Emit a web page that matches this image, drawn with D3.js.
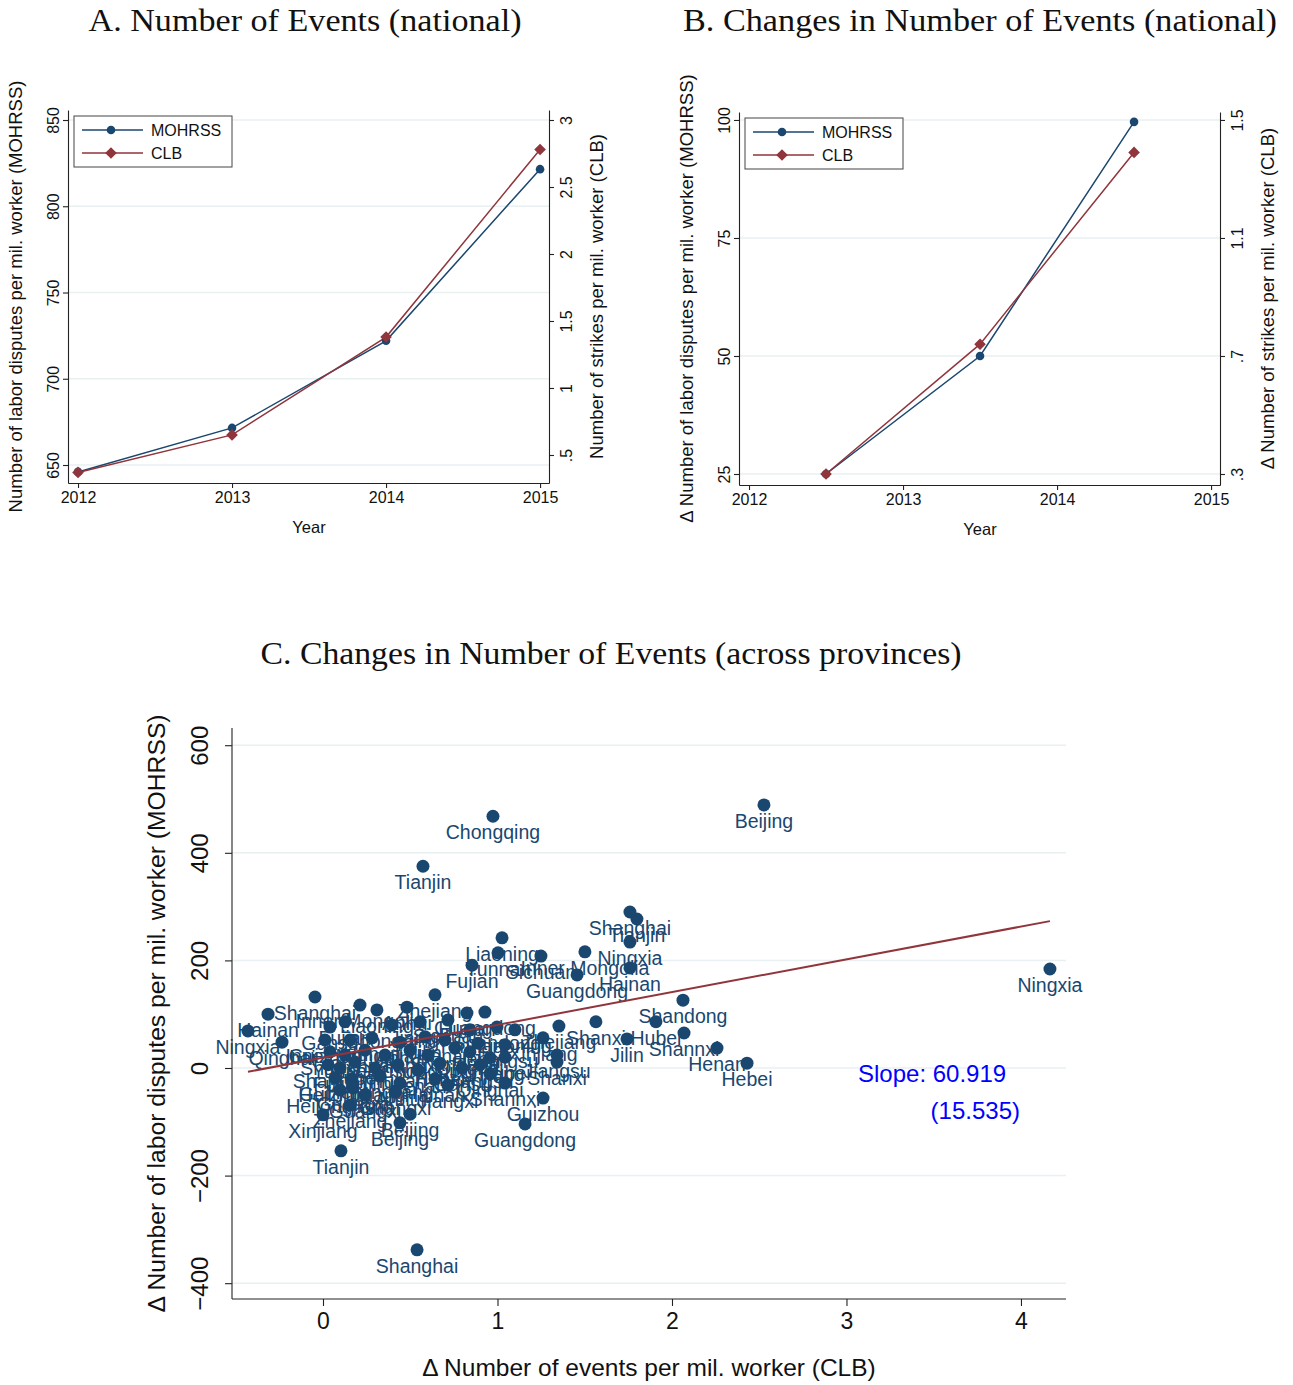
<!DOCTYPE html>
<html>
<head>
<meta charset="utf-8">
<script src="https://cdn.jsdelivr.net/npm/d3@7"></script>
<style>
body { margin: 0; background: #fff; }
</style>
</head>
<body>
<div id="chart"></div>
<script>
// ---- panel A: levels (national)
var years = [2012, 2013, 2014, 2015];
var mohrssLevel = [646, 671.5, 722, 821.5];
var clbLevel = [0.37, 0.65, 1.38, 2.78];

// ---- panel B: changes (national)
var changeYears = [2012.5, 2013.5, 2014.5];
var mohrssChange = [25, 50, 99.6];
var clbChange = [0.3, 0.74, 1.39];

// ---- panel C: changes across provinces
var provNames = ["Chongqing","Beijing","Tianjin","Shanghai","Tianjin","Liaoning","Yunnan","Sichuan","Fujian","Inner Mongolia",
	"Guangdong","Ningxia","Hainan","Shandong","Ningxia","Shanghai","Hainan","Ningxia","Qinghai","Inner Mongolia",
	"Liaoning","Anhui","Zhejiang","Hunan","Guangdong","Hubei","Shanxi","Zhejiang","Shannxi","Jilin",
	"Henan","Hebei","Xinjiang","Jiangsu","Shanxi","Guizhou","Guangdong","Beijing","Beijing","Xinjiang",
	"Tianjin","Shanghai","Zhejiang","Hainan","Qinghai","Shandong","Hubei","Heilongjiang","Guangxi",
	"Gansu","Fujian","Chongqing","Jiangxi","Sichuan","Yunnan","Shandong","Liaoning",
	"Guizhou","Inner Mongolia","Hunan","Anhui","Jilin","Henan","Hebei","Jiangsu",
	"Shanxi","Yunnan","Sichuan","Gansu","Jiangxi","Chongqing","Qinghai","Xinjiang",
	"Shannxi","Fujian","Hubei","Jilin","Hunan","Henan","Hebei","Gansu","Jiangsu",
	"Guizhou","Heilongjiang","Anhui","Jiangxi","Shannxi","Guangxi","Heilongjiang","Guangxi"];
var provDX = [0.974,2.527,0.573,1.759,1.799,1.026,1.003,1.249,0.854,1.501,
	1.456,1.759,1.759,2.063,4.166,-0.046,-0.315,-0.430,-0.235,0.212,
	0.309,0.481,0.642,0.825,0.928,1.908,1.564,1.352,2.069,1.742,
	2.258,2.430,1.261,1.341,1.341,1.261,1.158,0.499,0.441,0.000,
	0.103,0.539,0.155,0.642,0.957,0.756,1.043,0.166,0.172,
	0.040,0.126,0.395,0.556,0.716,0.842,0.997,1.100,
	0.011,0.155,0.281,0.441,0.585,0.699,0.888,1.043,
	0.040,0.126,0.241,0.355,0.499,0.602,0.842,0.957,
	0.029,0.097,0.183,0.298,0.430,0.544,0.670,0.797,0.900,
	0.069,0.327,0.441,0.716,1.043,0.413,0.097,0.241];
var provDY = [468,489,375,290,277,242,214,208,191,216,
	173,234,186,126,184,132,100,69,48,117,
	108,113,136,102,104,86,86,78,65,54,
	37,9,56,24,11,-56,-104,-86,-102,-87,
	-154,-338,-69,-20,-11,37,20,-20,-37,
	76,86,80,86,89,71,76,71,
	52,52,56,48,58,52,46,43,
	30,24,33,24,33,24,30,19,
	6,0,11,0,6,-4,9,0,6,
	-19,-15,-28,-32,-28,-45,-41,-50];
var fitSlope = 60.919, fitSE = 15.535, fitIntercept = 19.2;

var W = 1293, H = 1385;
var navy = "#1a476f", maroon = "#90353b", gridCol = "#e8f0f2", axisCol = "#222";
var sans = "'Liberation Sans', Arial, sans-serif";
var serif = "'Liberation Serif', 'Times New Roman', serif";

var svg = d3.select("#chart").append("svg")
	.attr("width", W)
	.attr("height", H)
	.style("background", "#fff");

// stata drops the leading zero on decimals
function stataNum(d) {
	var s = String(d);
	return s.indexOf("0.") == 0 ? s.substring(1) : s;
}

function diamond(r) {
	return "M0," + (-r) + "L" + r + ",0L0," + r + "L" + (-r) + ",0Z";
}

function panelTitle(txt, cx, y, len) {
	svg.append("text")
		.attr("x", cx).attr("y", y)
		.attr("text-anchor", "middle")
		.attr("textLength", len)
		.attr("lengthAdjust", "spacingAndGlyphs")
		.style("font-family", serif)
		.style("font-size", "32px")
		.style("fill", "#111")
		.text(txt);
}

// vertical tick labels like stata's default y labels
function rotateLabels(axisG, offset) {
	axisG.selectAll(".tick text")
		.attr("x", null).attr("dy", null)
		.attr("text-anchor", "middle")
		.attr("transform", "translate(" + offset + ",0) rotate(-90)");
}

function styleAxis(axisG, fontSize) {
	axisG.select(".domain").style("stroke", axisCol).style("stroke-width", 1.1);
	axisG.selectAll(".tick line").style("stroke", axisCol).style("stroke-width", 1.1);
	axisG.selectAll(".tick text")
		.style("font-family", sans)
		.style("font-size", fontSize + "px")
		.style("fill", "#111");
}

// draws a two-axis line panel (A and B)
function twinPanel(o) {
	var g = svg.append("g");
	var x = d3.scaleLinear().domain(o.xDom).range([o.left, o.right]);
	var yL = d3.scaleLinear().domain(o.yLDom).range([o.bottom, o.top]);
	var yR = d3.scaleLinear().domain(o.yRDom).range([o.bottom, o.top]);

	g.selectAll(".grid")
		.data(o.yLTicks)
		.enter().append("line")
		.attr("x1", o.left).attr("x2", o.right)
		.attr("y1", function(d) { return yL(d); })
		.attr("y2", function(d) { return yL(d); })
		.style("stroke", gridCol)
		.style("stroke-width", 1.5);

	var xa = g.append("g")
		.attr("transform", "translate(0," + o.bottom + ")")
		.call(d3.axisBottom(x).tickValues(years).tickFormat(d3.format("d")).tickSize(5).tickSizeOuter(0));
	styleAxis(xa, 16);
	xa.selectAll(".tick text").attr("y", 9).attr("dy", "0.71em");

	var la = g.append("g")
		.attr("transform", "translate(" + o.left + ",0)")
		.call(d3.axisLeft(yL).tickValues(o.yLTicks).tickSize(5).tickSizeOuter(0).tickFormat(stataNum));
	styleAxis(la, 16);
	rotateLabels(la, -9);

	var ra = g.append("g")
		.attr("transform", "translate(" + o.right + ",0)")
		.call(d3.axisRight(yR).tickValues(o.yRTicks).tickSize(5).tickSizeOuter(0).tickFormat(stataNum));
	styleAxis(ra, 16);
	ra.selectAll(".tick text")
		.attr("x", null).attr("dy", null)
		.attr("text-anchor", "middle")
		.attr("transform", "translate(23,0) rotate(-90)");

	// axis titles
	g.append("text")
		.attr("transform", "translate(" + o.lTitleX + "," + (o.top + o.bottom) / 2 + ") rotate(-90)")
		.attr("text-anchor", "middle")
		.style("font-family", sans).style("font-size", "18.5px").style("fill", "#111")
		.text(o.lTitle);
	g.append("text")
		.attr("transform", "translate(" + o.rTitleX + "," + (o.top + o.bottom) / 2 + ") rotate(-90)")
		.attr("text-anchor", "middle")
		.style("font-family", sans).style("font-size", "18.5px").style("fill", "#111")
		.text(o.rTitle);
	g.append("text")
		.attr("x", o.xTitleX).attr("y", o.bottom + 50)
		.attr("text-anchor", "middle")
		.style("font-family", sans).style("font-size", "16.5px").style("fill", "#111")
		.text("Year");

	// lines
	var lineL = d3.line().x(function(d, i) { return x(o.xs[i]); }).y(function(d) { return yL(d); });
	var lineR = d3.line().x(function(d, i) { return x(o.xs[i]); }).y(function(d) { return yR(d); });

	g.append("path").attr("d", lineL(o.left_vals))
		.style("fill", "none").style("stroke", navy).style("stroke-width", 1.5);
	g.append("path").attr("d", lineR(o.right_vals))
		.style("fill", "none").style("stroke", maroon).style("stroke-width", 1.5);

	g.selectAll(".mL").data(o.left_vals).enter().append("circle")
		.attr("cx", function(d, i) { return x(o.xs[i]); })
		.attr("cy", function(d) { return yL(d); })
		.attr("r", 4.3)
		.style("fill", navy);
	g.selectAll(".mR").data(o.right_vals).enter().append("path")
		.attr("d", diamond(5.8))
		.attr("transform", function(d, i) { return "translate(" + x(o.xs[i]) + "," + yR(d) + ")"; })
		.style("fill", maroon);

	// legend
	var lg = g.append("g").attr("transform", "translate(" + (o.left + 6) + "," + (o.top + 6) + ")");
	lg.append("rect").attr("width", 158).attr("height", 51)
		.style("fill", "#fff").style("stroke", "#444").style("stroke-width", 1);
	var items = [{name: "MOHRSS", col: navy, dia: false}, {name: "CLB", col: maroon, dia: true}];
	items.forEach(function(it, i) {
		var yy = 14 + i * 23;
		lg.append("line").attr("x1", 8).attr("x2", 69).attr("y1", yy).attr("y2", yy)
			.style("stroke", it.col).style("stroke-width", 1.5);
		if (it.dia) {
			lg.append("path").attr("d", diamond(5.8)).attr("transform", "translate(37," + yy + ")").style("fill", it.col);
		} else {
			lg.append("circle").attr("cx", 37).attr("cy", yy).attr("r", 4.3).style("fill", it.col);
		}
		lg.append("text").attr("x", 77).attr("y", yy + 6)
			.style("font-family", sans).style("font-size", "16px").style("fill", "#111")
			.text(it.name);
	});
}

panelTitle("A. Number of Events (national)", 305, 31, 433);
panelTitle("B. Changes in Number of Events (national)", 980, 31, 594);
panelTitle("C. Changes in Number of Events (across provinces)", 611, 664, 701);

twinPanel({
	left: 68, right: 549, top: 110, bottom: 483,
	xDom: [2011.935, 2015.058],
	yLDom: [639.57, 855.8], yRDom: [0.291, 3.0746],
	yLTicks: [650, 700, 750, 800, 850], yRTicks: [0.5, 1, 1.5, 2, 2.5, 3],
	xs: years, left_vals: mohrssLevel, right_vals: clbLevel,
	lTitle: "Number of labor disputes per mil. worker (MOHRSS)", lTitleX: 22,
	rTitle: "Number of strikes per mil. worker (CLB)", rTitleX: 603,
	xTitleX: 309
});

twinPanel({
	left: 739, right: 1220, top: 112, bottom: 485,
	xDom: [2011.935, 2015.058],
	yLDom: [22.67, 101.69], yRDom: [0.2627, 1.527],
	yLTicks: [25, 50, 75, 100], yRTicks: [0.3, 0.7, 1.1, 1.5],
	xs: changeYears, left_vals: mohrssChange, right_vals: clbChange,
	lTitle: "\u0394 Number of labor disputes per mil. worker (MOHRSS)", lTitleX: 693,
	rTitle: "\u0394 Number of strikes per mil. worker (CLB)", rTitleX: 1274,
	xTitleX: 980
});

// ---- panel C scatter
var cL = 232, cR = 1066, cT = 728, cB = 1299;
var cx = d3.scaleLinear().domain([-0.5215, 4.258]).range([cL, cR]);
var cy = d3.scaleLinear().domain([-429.4, 632.0]).range([cB, cT]);
var cg = svg.append("g");
var cYTicks = [-400, -200, 0, 200, 400, 600];

cg.selectAll(".cgrid").data(cYTicks).enter().append("line")
	.attr("x1", cL).attr("x2", cR)
	.attr("y1", function(d) { return cy(d); })
	.attr("y2", function(d) { return cy(d); })
	.style("stroke", gridCol).style("stroke-width", 1.5);

var cxa = cg.append("g").attr("transform", "translate(0," + cB + ")")
	.call(d3.axisBottom(cx).tickValues([0, 1, 2, 3, 4]).tickFormat(d3.format("d")).tickSize(7).tickSizeOuter(0));
styleAxis(cxa, 23);
cxa.select(".domain").attr("d", "M" + cL + ",0H" + cR);
cxa.selectAll(".tick text").attr("y", 14).attr("dy", "0.71em");

var cya = cg.append("g").attr("transform", "translate(" + cL + ",0)")
	.call(d3.axisLeft(cy).tickValues(cYTicks).tickSize(7).tickSizeOuter(0)
		.tickFormat(function(d) { return d < 0 ? "\u2212" + (-d) : d; }));
styleAxis(cya, 24);
cya.select(".domain").attr("d", "M0," + cT + "V" + cB);
rotateLabels(cya, -24);

cg.append("text")
	.attr("transform", "translate(165," + (cT + cB) / 2 + ") rotate(-90)")
	.attr("text-anchor", "middle")
	.style("font-family", sans).style("font-size", "24.7px").style("fill", "#111")
	.text("\u0394 Number of labor disputes per mil. worker (MOHRSS)");
cg.append("text")
	.attr("x", 649).attr("y", 1376)
	.attr("text-anchor", "middle")
	.style("font-family", sans).style("font-size", "24.5px").style("fill", "#111")
	.text("\u0394 Number of events per mil. worker (CLB)");

var pts = provNames.map(function(n, i) { return {name: n, x: provDX[i], y: provDY[i]}; });

cg.selectAll(".dot").data(pts).enter().append("circle")
	.attr("cx", function(d) { return cx(d.x); })
	.attr("cy", function(d) { return cy(d.y); })
	.attr("r", 6.5)
	.style("fill", navy);

cg.selectAll(".lab").data(pts).enter().append("text")
	.attr("x", function(d) { return cx(d.x); })
	.attr("y", function(d) { return cy(d.y) + 23; })
	.attr("text-anchor", "middle")
	.style("font-family", sans).style("font-size", "19.5px").style("fill", navy)
	.text(function(d) { return d.name; });

// fitted line over the observed range
var xExt = d3.extent(provDX);
cg.append("line")
	.attr("x1", cx(xExt[0])).attr("y1", cy(fitIntercept + fitSlope * xExt[0]))
	.attr("x2", cx(xExt[1])).attr("y2", cy(fitIntercept + fitSlope * xExt[1]))
	.style("stroke", maroon).style("stroke-width", 2);

cg.append("text")
	.attr("x", 858).attr("y", 1082)
	.style("font-family", sans).style("font-size", "24px").style("fill", "#0000ff")
	.text("Slope: " + fitSlope.toFixed(3));
cg.append("text")
	.attr("x", 1020).attr("y", 1119)
	.attr("text-anchor", "end")
	.style("font-family", sans).style("font-size", "24px").style("fill", "#0000ff")
	.text("(" + fitSE.toFixed(3) + ")");
</script>
</body>
</html>
